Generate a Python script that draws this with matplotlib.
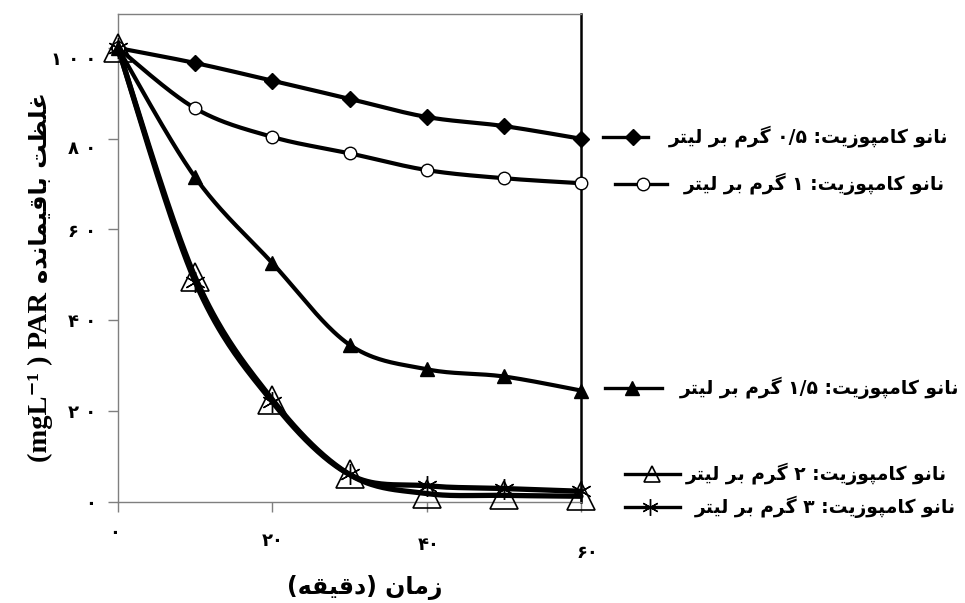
import re
import numpy as np
import matplotlib
matplotlib.use("Agg")
import matplotlib.pyplot as plt
from matplotlib import font_manager as fm
from matplotlib.lines import Line2D
from matplotlib.transforms import ScaledTranslation
import matplotlib.patheffects as pe
from fontTools.ttLib import TTFont

# ---------------- data ----------------
time_min = [0, 10, 20, 30, 40, 50, 60]
par_05 = [100, 96.7, 92.8, 88.8, 84.8, 82.8, 80.0]
par_1 = [100, 86.7, 80.4, 76.8, 73.1, 71.3, 70.2]
par_15 = [100, 71.5, 52.6, 34.6, 29.2, 27.6, 24.5]
par_2 = [100, 49.5, 22.5, 6.0, 1.8, 1.4, 1.2]
par_3 = [100, 48.5, 22.0, 6.0, 3.5, 2.9, 2.3]
x_ticks = [0, 20, 40, 60]
y_ticks = [0, 20, 40, 60, 80, 100]
doses = ["۰/۵", "۱", "۱/۵", "۲", "۳"]
legend_prefix = "نانو کامپوزیت: "
legend_suffix = " گرم بر لیتر"
xlabel_text = "زمان (دقیقه)"
ylabel_fa = "غلظت باقیمانده"
ylabel_latin = "(mgL\u207b\u00b9 ) PAR"

# ---------------- Persian shaping helpers ----------------
FORMS = {
    "ا": (0xFE8D, 0xFE8E, None, None),
    "ب": (0xFE8F, 0xFE90, 0xFE91, 0xFE92),
    "پ": (0xFB56, 0xFB57, 0xFB58, 0xFB59),
    "ت": (0xFE95, 0xFE96, 0xFE97, 0xFE98),
    "د": (0xFEA9, 0xFEAA, None, None),
    "ر": (0xFEAD, 0xFEAE, None, None),
    "ز": (0xFEAF, 0xFEB0, None, None),
    "ظ": (0xFEC5, 0xFEC6, 0xFEC7, 0xFEC8),
    "غ": (0xFECD, 0xFECE, 0xFECF, 0xFED0),
    "ق": (0xFED5, 0xFED6, 0xFED7, 0xFED8),
    "ک": (0xFB8E, 0xFB8F, 0xFB90, 0xFB91),
    "گ": (0xFB92, 0xFB93, 0xFB94, 0xFB95),
    "ل": (0xFEDD, 0xFEDE, 0xFEDF, 0xFEE0),
    "م": (0xFEE1, 0xFEE2, 0xFEE3, 0xFEE4),
    "ن": (0xFEE5, 0xFEE6, 0xFEE7, 0xFEE8),
    "ه": (0xFEE9, 0xFEEA, 0xFEEB, 0xFEEC),
    "و": (0xFEED, 0xFEEE, None, None),
    "ی": (0xFBFC, 0xFBFD, 0xFBFE, 0xFBFF),
}

bold_path = fm.findfont(fm.FontProperties(family="DejaVu Sans", weight="bold"))
reg_path = fm.findfont(fm.FontProperties(family="DejaVu Sans"))
bold_cmap = set(TTFont(bold_path).getBestCmap().keys())
reg_cmap = set(TTFont(reg_path).getBestCmap().keys())
needed = {c for f in FORMS.values() for c in f if c} | set(range(0x06F0, 0x06FA))
USE_BOLD = needed <= bold_cmap
CMAP = bold_cmap if USE_BOLD else reg_cmap
FA_WEIGHT = "bold" if USE_BOLD else "normal"
FA_EFFECT = [] if USE_BOLD else [pe.withStroke(linewidth=0.9, foreground="black")]


def shape(s):
    out = []
    for i, ch in enumerate(s):
        if ch not in FORMS:
            out.append(ch)
            continue
        prev = s[i - 1] if i > 0 else ""
        nxt = s[i + 1] if i + 1 < len(s) else ""
        jp = prev in FORMS and FORMS[prev][2] is not None
        jn = FORMS[ch][2] is not None and nxt in FORMS
        iso, fin, ini, med = FORMS[ch]
        code = med if (jp and jn) else fin if jp else ini if jn else iso
        out.append(chr(code) if code in CMAP else ch)
    return "".join(out)


def visual(s):
    r = shape(s)[::-1]
    r = r.translate(str.maketrans("()", ")("))
    return re.sub(r"[0-9\u06F0-\u06F9/]+", lambda m: m.group(0)[::-1], r)


def fa_num(v, sep=""):
    return sep.join(str(v).translate(str.maketrans("0123456789", "۰۱۲۳۴۵۶۷۸۹")))


def smooth(xs, ys, n=40):
    p = np.column_stack([xs, ys]).astype(float)
    ext = np.vstack([p[0], p, p[-1]])
    t = np.linspace(0, 1, n)[:, None]
    pts = []
    for i in range(len(p) - 1):
        p0, p1, p2, p3 = ext[i], ext[i + 1], ext[i + 2], ext[i + 3]
        c1 = p1 + (p2 - p0) / 6
        c2 = p2 - (p3 - p1) / 6
        seg = (1 - t) ** 3 * p1 + 3 * (1 - t) ** 2 * t * c1 + 3 * (1 - t) * t ** 2 * c2 + t ** 3 * p2
        pts.append(seg if i == 0 else seg[1:])
    return np.vstack(pts)


# ---------------- figure ----------------
W, H = 965, 603
fig = plt.figure(figsize=(W / 100, H / 100), dpi=100)
ax = fig.add_axes([118 / W, 1 - 501.7 / H, (581 - 118) / W, (501.7 - 14) / H])
ax.set_xlim(0, 60)
ax.set_ylim(0, 107.5)

star = (6, 2, 0)
series = [
    (par_05, dict(marker="D", ms=8.5, mfc="black", mec="black", mew=1), 3.0),
    (par_1, dict(marker="o", ms=9, mfc="white", mec="black", mew=1.0), 3.0),
    (par_15, dict(marker="^", ms=9.5, mfc="black", mec="black", mew=1), 3.0),
    (par_2, dict(marker="^", ms=20, mfc="none", mec="black", mew=1.2), 3.8),
    (par_3, dict(marker=star, ms=15, mfc="none", mec="black", mew=1.0), 3.8),
]
for vals, mk, lw in series:
    curve = smooth(time_min, vals)
    ax.plot(curve[:, 0], curve[:, 1], color="black", lw=lw, solid_capstyle="round",
            clip_on=False, zorder=2)
for vals, mk, lw in series:
    ax.plot(time_min, vals, ls="none", clip_on=False, zorder=3, **mk)

# axes frame
for side in ("left", "bottom", "top"):
    ax.spines[side].set_color("#7f7f7f")
    ax.spines[side].set_linewidth(1.0)
ax.spines["right"].set_color("black")
ax.spines["right"].set_linewidth(1.8)

ax.set_xticks(x_ticks, labels=[fa_num(v) for v in x_ticks])
ax.set_yticks(y_ticks, labels=[fa_num(v, " ") for v in y_ticks])
ax.tick_params(axis="both", direction="out", color="#7f7f7f", width=1.0, length=7,
               labelsize=13)
ax.tick_params(axis="x", pad=15)
ax.tick_params(axis="y", pad=9)
for lab in ax.get_xticklabels() + ax.get_yticklabels():
    lab.set_fontfamily("DejaVu Sans")
    lab.set_fontweight(FA_WEIGHT)
    lab.set_path_effects(FA_EFFECT)

# slight per-label nudges of the tick numbers (pixels, +y is up)
x_nudge = [(-3, 8), (0, 0), (2, -4), (6, -12)]
y_nudge = [(0, 0), (0, 0), (0, 0), (0, -1), (0, -8), (0, -10)]
for tick, (dx, dy) in zip(ax.xaxis.get_major_ticks(), x_nudge):
    lab = tick.label1
    lab.set_transform(lab.get_transform() + ScaledTranslation(dx / 100, dy / 100, fig.dpi_scale_trans))
for tick, (dx, dy) in zip(ax.yaxis.get_major_ticks(), y_nudge):
    lab = tick.label1
    lab.set_transform(lab.get_transform() + ScaledTranslation(dx / 100, dy / 100, fig.dpi_scale_trans))

# axis titles
fig.text(365 / W, 1 - 588 / H, visual(xlabel_text), ha="center", va="center",
         fontsize=17, fontweight=FA_WEIGHT, family="DejaVu Sans", path_effects=FA_EFFECT)
fig.text(40 / W, 1 - 462 / H, ylabel_latin, ha="center", va="bottom",
         rotation=90, fontsize=20.5, fontweight="bold",
         family=["Liberation Serif", "DejaVu Sans"])
fig.text(40 / W, 1 - 283 / H, visual(ylabel_fa), ha="center", va="bottom",
         rotation=90, fontsize=17.5, fontweight=FA_WEIGHT,
         family="DejaVu Sans", path_effects=FA_EFFECT)

# key entries to the right of the plot: (line x0, marker x, line x1, y, text centre)
key_layout = [
    (603, 633, 648, 137, 809),
    (615, 643, 667, 184, 814),
    (605, 632, 662, 388, 820),
    (625, 652, 680, 474, 816),
    (625, 650, 680, 507, 825),
]
for (vals, mk, lw), dose, (x0, xm, x1, yk, xc) in zip(series, doses, key_layout):
    kmk = dict(mk)
    if kmk["ms"] > 14:
        kmk["ms"] = 11 if kmk["marker"] == "^" else 12
    ln = Line2D([x0 / W, xm / W, x1 / W], [1 - yk / H] * 3, transform=fig.transFigure,
                color="black", lw=2.4, markevery=[1], **kmk)
    fig.add_artist(ln)
    fig.text(xc / W, 1 - yk / H, visual(legend_prefix + dose + legend_suffix),
             ha="center", va="center", fontsize=13.5, fontweight=FA_WEIGHT,
             family="DejaVu Sans", path_effects=FA_EFFECT)

fig.savefig("out.png", dpi=100)
